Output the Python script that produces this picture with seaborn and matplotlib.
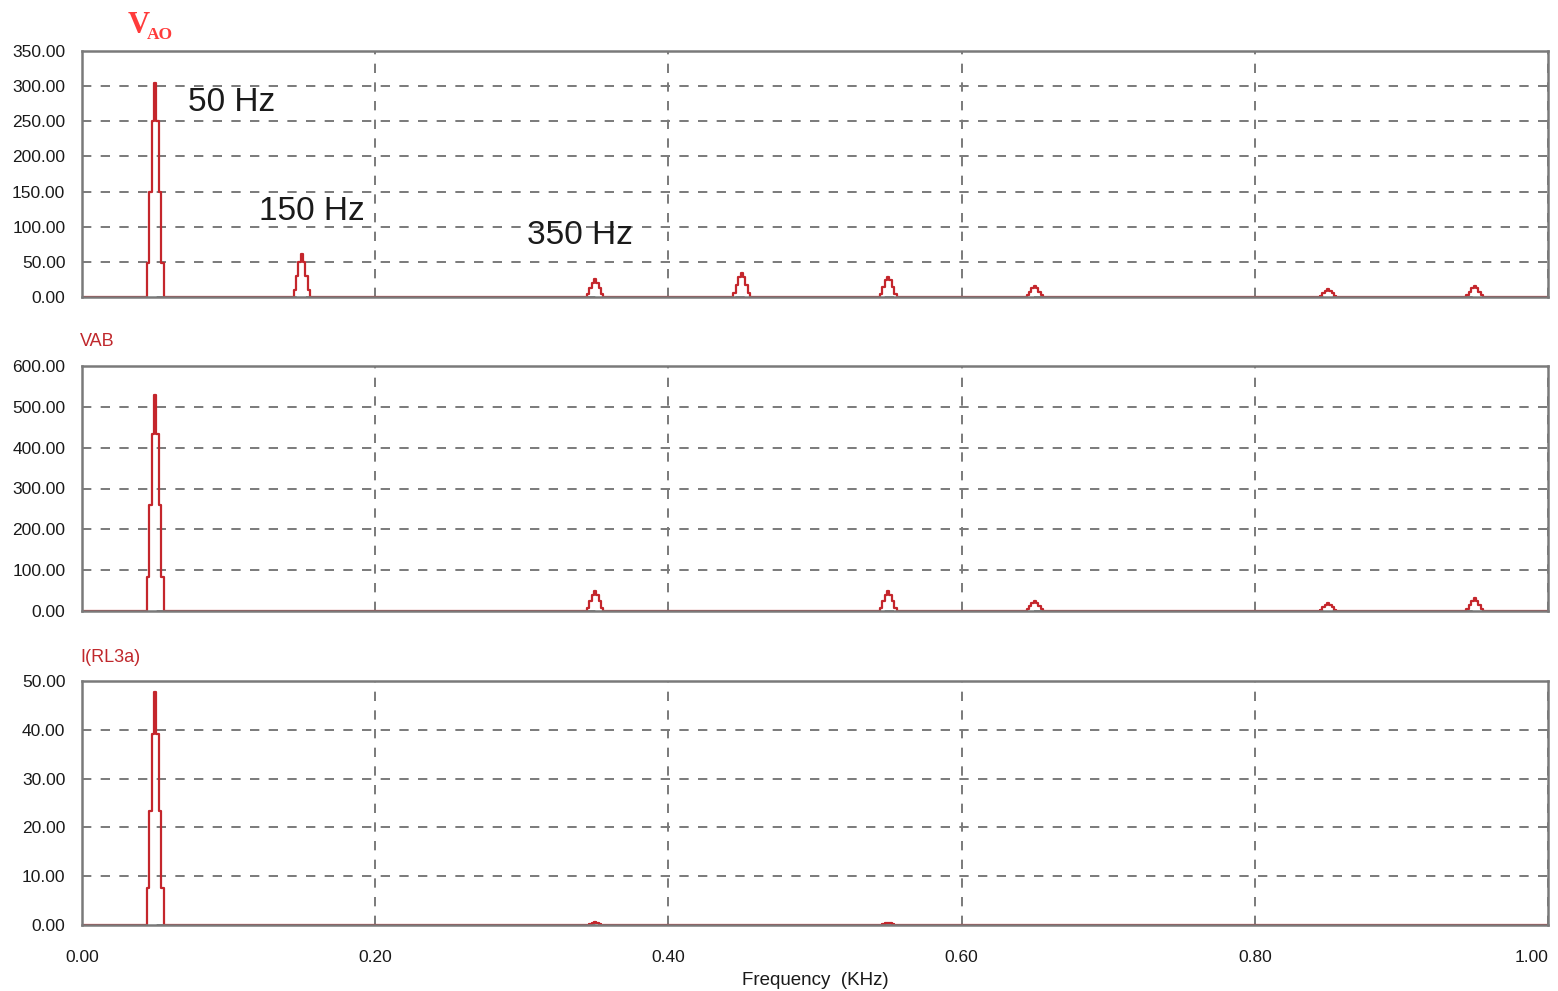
import numpy as np
import pandas as pd
import matplotlib
matplotlib.use('Agg')
import matplotlib.pyplot as plt
import seaborn as sns
from matplotlib.ticker import MultipleLocator, FormatStrFormatter

# DONNEES : harmoniques (frequence en kHz, amplitude)
freq_vao = [0.05, 0.15, 0.35, 0.45, 0.55, 0.65, 0.85, 0.95]
amp_vao = [305, 61, 25, 34, 29, 15, 11, 15]

freq_vab = [0.05, 0.35, 0.55, 0.65, 0.85, 0.95]
amp_vab = [528, 48, 49, 25, 19, 31]

freq_irl = [0.05, 0.35, 0.55]
amp_irl = [47.8, 0.6, 0.5]

# forme d'un pic (fraction de l'amplitude sur les raies voisines)
profil_pic = [0.0, 0.16, 0.49, 0.82, 1.0, 0.82, 0.49, 0.16, 0.0]

panel_names = ['VAO', 'VAB', 'I(RL3a)']
y_max = [350, 600, 50]
y_step = [50, 100, 10]
x_ticks = [0.0, 0.2, 0.4, 0.6, 0.8, 1.0]
annot_text = ['50 Hz', '150 Hz', '350 Hz']
annot_x = [0.072, 0.121, 0.3035]
annot_y = [277, 122, 87]

RED = '#c4262c'
DELTA = 0.0016  # pas en kHz entre deux raies du spectre


def spectre(freqs, amps):
    '''construit la trace du spectre a partir des harmoniques'''
    xs = [0.0]
    ys = [0.0]
    k = np.arange(len(profil_pic)) - len(profil_pic) // 2
    for f, a in zip(freqs, amps):
        xs.extend(f + k * DELTA)
        ys.extend(a * np.array(profil_pic))
    xs.append(1.0)
    ys.append(0.0)
    return pd.DataFrame({'freq': xs, 'amp': ys})


sns.set_style('white')
plt.rcParams['font.family'] = ['Liberation Sans Narrow', 'Liberation Sans', 'DejaVu Sans']

fig = plt.figure(figsize=(15.58, 9.91), dpi=100)
W, H = 1558, 991
boxes = [(51, 297), (366, 611), (681, 925)]
data = [(freq_vao, amp_vao), (freq_vab, amp_vab), (freq_irl, amp_irl)]

axes = []
for i, (top, bot) in enumerate(boxes):
    ax = fig.add_axes([82 / W, 1 - bot / H, (1548 - 82) / W, (bot - top) / H])
    df = spectre(*data[i])
    sns.lineplot(data=df, x='freq', y='amp', ax=ax, color=RED, lw=1.6,
                 drawstyle='steps-mid', estimator=None, sort=False)
    ax.set_xlim(0, 1.0)
    ax.set_ylim(0, y_max[i])
    ax.set_xticks(x_ticks)
    ax.yaxis.set_major_locator(MultipleLocator(y_step[i]))
    ax.yaxis.set_major_formatter(FormatStrFormatter('%.2f'))
    ax.xaxis.set_major_formatter(FormatStrFormatter('%.2f'))
    ax.grid(True, color='#7a7a7a', lw=1.4, ls=(0, (4.8, 4.8)))
    for s in ax.spines.values():
        s.set_color('#7a7a7a')
        s.set_linewidth(1.8)
    ax.tick_params(axis='y', length=0, labelsize=12.5, labelcolor='#1a1a1a', pad=12)
    ax.tick_params(axis='x', length=0, labelsize=12.5, labelcolor='#1a1a1a', pad=18)
    ax.set_xlabel('')
    ax.set_ylabel('')
    if i < 2:
        ax.set_xticklabels([])
    axes.append(ax)

# le dernier label de l'axe x reste dans la figure
axes[2].get_xticklabels()[-1].set_horizontalalignment('right')
axes[2].set_xlabel('Frequency  (KHz)', fontsize=13.5, color='#1a1a1a', labelpad=5)

# titres des courbes
fig.text(128 / W, 1 - 33 / H, 'V', color='#ff3b3b', fontsize=22, fontweight='bold',
         family='Liberation Serif', va='baseline')
fig.text(147 / W, 1 - 39 / H, 'AO', color='#ff3b3b', fontsize=12.5, fontweight='bold',
         family='Liberation Serif', va='baseline')
fig.text(80 / W, 1 - 342 / H, panel_names[1], color='#c0282c', fontsize=13, va='center')
fig.text(80 / W, 1 - 657 / H, panel_names[2], color='#c0282c', fontsize=13, va='center')

# annotations des harmoniques
for t, x, y in zip(annot_text, annot_x, annot_y):
    axes[0].text(x, y, t, fontsize=24, color='#1a1a1a', ha='left', va='center')

fig.savefig('out.png', dpi=100)
